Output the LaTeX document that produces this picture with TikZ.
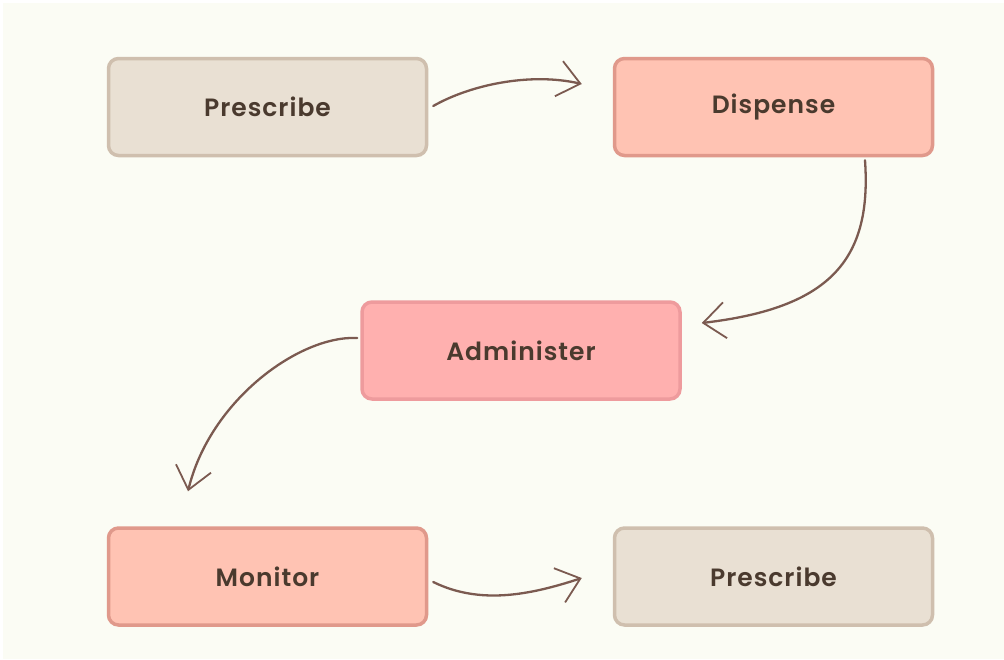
\documentclass[tikz,border=0pt]{standalone}
\usepackage{fontspec}
\setmainfont{Poppins}[UprightFont=* SemiBold, LetterSpace=4]
\usetikzlibrary{arrows.meta}
\definecolor{bgc}{HTML}{FBFCF4}
\definecolor{txt}{HTML}{4A3A2E}
\definecolor{arr}{HTML}{7B5A50}
\definecolor{beigeF}{HTML}{E9E0D3}
\definecolor{beigeD}{HTML}{CFBFAE}
\definecolor{salmonF}{HTML}{FFC3B3}
\definecolor{salmonD}{HTML}{E0998B}
\definecolor{pinkF}{HTML}{FFB0AF}
\definecolor{pinkD}{HTML}{EE9B9D}
\tikzset{
  box/.style={rounded corners=10pt, line width=3.5pt, minimum width=318pt, minimum height=97pt,
    inner sep=0pt, text=txt, font=\fontsize{25}{30}\selectfont},
  beigebox/.style={box, draw=beigeD, fill=beigeF},
  salmonbox/.style={box, draw=salmonD, fill=salmonF},
  pinkbox/.style={box, draw=pinkD, fill=pinkF},
  conn/.style={draw=arr, line width=2.3pt, line cap=round,
    -{Straight Barb[length=22pt,width=36pt,line width=1.8pt]}}
}
\begin{document}
\begin{tikzpicture}[x=1pt,y=-1pt]
\useasboundingbox (0,0) rectangle (1004,659);
\fill[white] (0,0) rectangle (1004,659);
\fill[bgc] (3,3) rectangle (1004,659);
\node[beigebox] (p1) at (267.5,107) {Prescribe};
\node[salmonbox] (d) at (773.5,107) {Dispense};
\node[pinkbox] (a) at (521,350.5) {Administer};
\node[salmonbox] (m) at (267.5,576.5) {Monitor};
\node[beigebox] (p2) at (773.5,576.5) {Prescribe};
\draw[conn] ([shift={(5,-1)}]p1.east) .. controls (470,85) and (530,72) .. ([shift={(-31,-23)}]d.west);
\draw[conn] ([shift={(91.5,3)}]d.south) .. controls (872,260) and (830,308) .. ([shift={(20,-27.5)}]a.east);
\draw[conn] ([shift={(-3,-12.5)}]a.west) .. controls (300,335) and (210,400) .. ([shift={(-79.5,-35)}]m.north);
\draw[conn] ([shift={(5,5.5)}]m.east) .. controls (480,605) and (530,595) .. ([shift={(-31,1.5)}]p2.west);
\end{tikzpicture}
\end{document}
